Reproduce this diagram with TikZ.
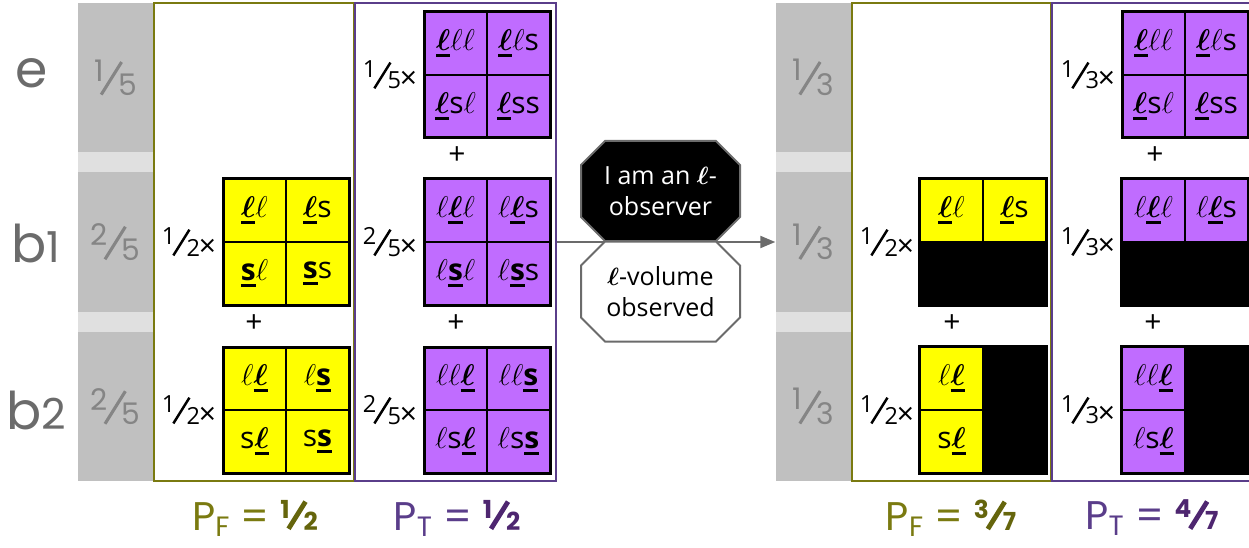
\RequirePackage{fix-cm}
\documentclass[tikz,border=0pt]{standalone}
\usepackage{amsmath}
\usepackage{bm}
\usepackage{graphicx}
\usepackage{fontspec}
\setmainfont{Open Sans}
\newfontfamily\geo{Poppins}
\usetikzlibrary{arrows.meta, positioning, shapes.misc}
\definecolor{bcOlive}{HTML}{7A7A10}
\definecolor{bcOliveDk}{HTML}{65650C}
\definecolor{bcPurple}{HTML}{5A3D8A}
\definecolor{bcPurpleDk}{HTML}{4E2670}
\definecolor{bcYellow}{HTML}{FFFF00}
\definecolor{bcViolet}{HTML}{C06CFF}
\definecolor{bcGray}{HTML}{C0C0C0}
\definecolor{bcGap}{HTML}{E0E0E0}
\definecolor{bcText}{HTML}{6B6B6B}
\definecolor{bcEdge}{HTML}{6B6B6B}
% small slanted fractions
\newcommand\frx[3]{\raisebox{.3em}{\scalebox{.62}{#2}}\kern-.08em\rotatebox{58}{\rule{.8em}{#1}}\kern-.1em\scalebox{.62}{#3}}
\newcommand\fr[2]{\frx{.065em}{#1}{#2}}
\newcommand\frb[2]{\frx{.12em}{#1}{#2}}
\newcommand\mul[2]{{\fontsize{38}{38}\selectfont\fr{#1}{#2}}\kern-.04em×}
% observation letters
\newsavebox\ulbox
\newcommand\ul[1]{\sbox\ulbox{#1}\rlap{\rule[-.2em]{\wd\ulbox}{.09em}}\usebox\ulbox}
\newcommand\el{$\ell$}
\newcommand\bL{\ul{$\bm{\ell}$}}
\newcommand\bS{\ul{\textbf{s}}}
\tikzset{
  rowlab/.style={font=\geo\fontsize{52}{52}\selectfont, text=bcText},
  band/.style={fill=bcGray, minimum width=76pt, inner sep=0pt,
    font=\geo\fontsize{48}{48}\selectfont, text=black!48},
  panel/.style={line width=2pt, minimum height=478pt, inner sep=0pt},
  panelF/.style={panel, draw=bcOlive},
  panelT/.style={panel, draw=bcPurple},
  cell/.style={draw=black, line width=1.2pt, minimum size=63pt, inner sep=0pt,
    outer sep=0pt, font=\fontsize{30}{30}\selectfont},
  ycell/.style={cell, fill=bcYellow},
  vcell/.style={cell, fill=bcViolet},
  maskbox/.style={fill=black, minimum size=126pt, inner sep=0pt},
  frame/.style={line width=3pt},
  times/.style={font=\fontsize{30}{30}\selectfont},
  octo/.style={chamfered rectangle, chamfered rectangle xsep=12pt,
    chamfered rectangle ysep=12pt, draw=bcEdge, line width=2pt,
    minimum width=159pt, minimum height=100pt, inner sep=0pt, align=center,
    font=\fontsize{25}{31}\selectfont},
  link/.style={-{Triangle[length=15pt, width=12pt]}, draw=bcEdge, line width=2pt},
  result/.style={font=\geo\fontsize{40}{40}\selectfont}
}

\begin{document}
\begin{tikzpicture}[x=1pt, y=-1pt, node distance=0pt]
  \useasboundingbox (0,0) rectangle (1249,548);
  \clip (0,0) rectangle (1249,548);

  % row labels
  \node[rowlab] (le) at (32,73) {e};
  \node[rowlab] (lb1) at (36,243) {b\scalebox{.82}{1}};
  \node[rowlab] (lb2) at (36,410) {b\scalebox{.82}{2}};

  % prior columns
  \fill[bcGap] (77.5,3) rectangle (153.5,481);
  \node[band, minimum height=149pt] (Le) at (115.5,77.5) {\fr15};
  \node[band, minimum height=140pt] (Lb1) at (115.5,242) {\fr25};
  \node[band, minimum height=149pt] (Lb2) at (115.5,406.5) {\fr25};
  \fill[bcGap] (775.5,3) rectangle (851.5,481);
  \node[band, minimum height=149pt] (Re) at (813.5,77.5) {\fr13};
  \node[band, minimum height=140pt] (Rb1) at (813.5,242) {\fr13};
  \node[band, minimum height=149pt] (Rb2) at (813.5,406.5) {\fr13};

  % panels
  \node[panelF, minimum width=200pt] (Fl) at (254,242) {};
  \node[panelT, minimum width=201pt] (Tl) at (455.5,242) {};
  \node[panelF, minimum width=199pt] (Fr) at (951.5,242) {};
  \node[panelT, minimum width=202pt] (Tr) at (1153,242) {};

  % left, F
  \node[times] (mFl1) at (189,242) {\mul12};
  \node[ycell] (Fl1a) at (254.5,210.5) {\bL\el};
  \node[ycell, right=of Fl1a] (Fl1b) {\bL s};
  \node[ycell, below=of Fl1a] (Fl1c) {\bS\el};
  \node[ycell, right=of Fl1c] (Fl1d) {\bS s};
  \draw[frame] (Fl1a.north west) rectangle (Fl1d.south east);
  \node[times] (pFl) at (254,324) {+};
  \node[times] (mFl2) at (189,410) {\mul12};
  \node[ycell] (Fl2a) at (254.5,378.5) {\el\bL};
  \node[ycell, right=of Fl2a] (Fl2b) {\el\bS};
  \node[ycell, below=of Fl2a] (Fl2c) {s\bL};
  \node[ycell, right=of Fl2c] (Fl2d) {s\bS};
  \draw[frame] (Fl2a.north west) rectangle (Fl2d.south east);

  % left, T
  \node[times] (mTl0) at (390,75) {\mul15};
  \node[vcell] (Tl0a) at (455.5,43.5) {\bL\el\el};
  \node[vcell, right=of Tl0a] (Tl0b) {\bL\el s};
  \node[vcell, below=of Tl0a] (Tl0c) {\bL s\el};
  \node[vcell, right=of Tl0c] (Tl0d) {\bL ss};
  \draw[frame] (Tl0a.north west) rectangle (Tl0d.south east);
  \node[times] (pTl0) at (457,156) {+};
  \node[times] (mTl1) at (390,242) {\mul25};
  \node[vcell] (Tl1a) at (455.5,210.5) {\el\bL\el};
  \node[vcell, right=of Tl1a] (Tl1b) {\el\bL s};
  \node[vcell, below=of Tl1a] (Tl1c) {\el\bS\el};
  \node[vcell, right=of Tl1c] (Tl1d) {\el\bS s};
  \draw[frame] (Tl1a.north west) rectangle (Tl1d.south east);
  \node[times] (pTl1) at (456,324) {+};
  \node[times] (mTl2) at (390,410) {\mul25};
  \node[vcell] (Tl2a) at (455.5,378.5) {\el\el\bL};
  \node[vcell, right=of Tl2a] (Tl2b) {\el\el\bS};
  \node[vcell, below=of Tl2a] (Tl2c) {\el s\bL};
  \node[vcell, right=of Tl2c] (Tl2d) {\el s\bS};
  \draw[frame] (Tl2a.north west) rectangle (Tl2d.south east);

  % update
  \draw[link] (Tl) -- (Rb1);
  \node[octo, fill=black, text=white] (obs) at (660.5,191) {I am an $\bm{\ell}$-\\observer};
  \node[octo, fill=white] (vol) at (660.5,291.5) {$\bm{\ell}$-volume\\observed};

  % right, F
  \node[times] (mFr1) at (887,242) {\mul12};
  \node[maskbox] (Fr1) at (983,242) {};
  \node[ycell] (Fr1a) at (951.5,210.5) {\bL\el};
  \node[ycell, right=of Fr1a] (Fr1b) {\bL s};
  \draw[frame] (Fr1.north west) rectangle (Fr1.south east);
  \node[times] (pFr) at (952,324) {+};
  \node[times] (mFr2) at (887,410) {\mul12};
  \node[maskbox] (Fr2) at (983,410) {};
  \node[ycell] (Fr2a) at (951.5,378.5) {\el\bL};
  \node[ycell, below=of Fr2a] (Fr2c) {s\bL};
  \draw[frame] (Fr2.north west) rectangle (Fr2.south east);

  % right, T
  \node[times] (mTr0) at (1088,75) {\mul13};
  \node[vcell] (Tr0a) at (1153.5,43.5) {\bL\el\el};
  \node[vcell, right=of Tr0a] (Tr0b) {\bL\el s};
  \node[vcell, below=of Tr0a] (Tr0c) {\bL s\el};
  \node[vcell, right=of Tr0c] (Tr0d) {\bL ss};
  \draw[frame] (Tr0a.north west) rectangle (Tr0d.south east);
  \node[times] (pTr0) at (1155,156) {+};
  \node[times] (mTr1) at (1088,242) {\mul13};
  \node[maskbox] (Tr1) at (1185,242) {};
  \node[vcell] (Tr1a) at (1153.5,210.5) {\el\bL\el};
  \node[vcell, right=of Tr1a] (Tr1b) {\el\bL s};
  \draw[frame] (Tr1.north west) rectangle (Tr1.south east);
  \node[times] (pTr1) at (1153,324) {+};
  \node[times] (mTr2) at (1088,410) {\mul13};
  \node[maskbox] (Tr2) at (1185,410) {};
  \node[vcell] (Tr2a) at (1153.5,378.5) {\el\el\bL};
  \node[vcell, below=of Tr2a] (Tr2c) {\el s\bL};
  \draw[frame] (Tr2.north west) rectangle (Tr2.south east);

  % results
  \node[result, text=bcOlive] (PFl) at (255,518) {P\textsubscript{F} = \textcolor{bcOliveDk}{\textbf{\frb12}}};
  \node[result, text=bcPurple] (PTl) at (457,518) {P\textsubscript{T} = \textcolor{bcPurpleDk}{\textbf{\frb12}}};
  \node[result, text=bcOlive] (PFr) at (951,518) {P\textsubscript{F} = \textcolor{bcOliveDk}{\textbf{\frb37}}};
  \node[result, text=bcPurple] (PTr) at (1152,518) {P\textsubscript{T} = \textcolor{bcPurpleDk}{\textbf{\frb47}}};
\end{tikzpicture}
\end{document}
